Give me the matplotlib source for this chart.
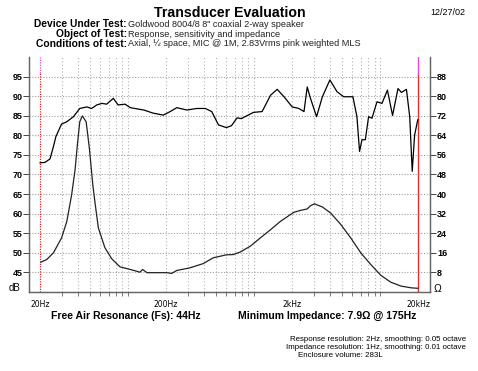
# Transducer evaluation sheet: response + impedance of Goldwood 8004/8
import matplotlib
matplotlib.use("Agg")
import matplotlib.pyplot as plt

# response (dB SPL, left axis)
resp_freq = [20, 21.9, 24.0, 25.5, 26.7, 29.6, 32.6, 36.8, 41.3, 47, 51.3, 56.3, 61.9, 67.5,
             76.2, 83.2, 94.4, 104, 133, 158, 190, 215, 243, 292, 350, 409, 460, 520, 600,
             660, 730, 789, 985, 1153, 1347, 1520, 1720, 2000, 2260, 2480, 2630, 2790, 3120,
             3470, 3980, 4530, 5120, 6060, 6520, 6840, 7150, 7600, 8070, 8580, 9400, 10300,
             11380, 12500, 13800, 14700, 16100, 17100, 17900, 18700, 19800]
resp_db = [73.0, 73.1, 74.0, 77.1, 79.7, 82.9, 83.5, 84.8, 86.9, 87.3, 86.9, 87.8, 88.2, 88.0,
           89.5, 87.8, 88.0, 87.1, 86.5, 85.7, 85.2, 86.1, 87.1, 86.5, 86.9, 86.9, 86.1, 82.7,
           82.0, 82.5, 84.5, 84.3, 85.9, 86.1, 90.3, 91.8, 89.9, 87.3, 86.9, 86.1, 92.4, 89.5,
           84.8, 89.9, 94.2, 91.2, 89.9, 89.9, 84.8, 75.9, 78.9, 78.9, 84.8, 84.4, 88.6, 88.2,
           91.6, 85.1, 92.0, 91.0, 91.8, 84.8, 70.8, 80.1, 84.0]

# impedance (ohms, right axis)
imp_freq = [20.3, 22.6, 25.5, 29.6, 32.6, 35.6, 37.9, 39.5, 41.3, 43.3, 46.4, 49.2, 52.4, 54.6,
            58, 65.4, 74, 86, 104, 124, 130, 141, 169, 202, 221, 243, 310, 393, 473, 600, 680,
            770, 928, 1115, 1346, 1612, 2055, 2325, 2630, 2790, 3000, 3470, 4040, 4860, 5830,
            7000, 8410, 10100, 12100, 14600, 17500, 19800]
imp_ohm = [12.1, 13.2, 15.9, 22, 28.8, 39.7, 49.9, 60, 69.6, 72, 69.6, 58.8, 43.8, 36.3,
           26.1, 18, 13.5, 10.2, 9.1, 8.0, 9.1, 7.8, 7.8, 7.8, 7.5, 8.7, 9.8, 11.5, 13.9, 15.1,
           15.2, 16.2, 18.6, 22, 25.4, 28.8, 32.5, 33.3, 33.9, 35.2, 36, 34.7, 32.2, 27.5, 22,
           15.9, 11.1, 6.7, 3.9, 2.3, 1.6, 1.4]

db_ticks = [45, 50, 55, 60, 65, 70, 75, 80, 85, 90, 95]
ohm_ticks = [8, 16, 24, 32, 40, 48, 56, 64, 72, 80, 88]
x_major = [20, 200, 2000, 20000]
x_labels = ["20Hz", "200Hz", "2kHz", "20kHz"]

head_keys = ["Device Under Test:", "Object of Test:", "Conditions of test:"]
head_vals = ["Goldwood 8004/8 8\" coaxial 2-way speaker",
             "Response, sensitivity and impedance",
             "Axial, \u00bd space, MIC @ 1M, 2.83Vrms pink weighted MLS"]

plt.rcParams['font.family'] = ['Liberation Sans', 'DejaVu Sans']

fig = plt.figure(figsize=(4.78, 3.71), dpi=100)
ax = fig.add_axes([0.0613, 0.2137, 0.8383, 0.6319])
ax.set_xscale('log')
ax.set_xlim(16.43, 24770)
ax.set_ylim(40, 100)

# dotted grid
grid_f = [m * 10 ** e for e in range(1, 5) for m in range(1, 10)]
grid_f = [f for f in grid_f if 20 < f < 20000]
for f in grid_f:
    ax.axvline(f, color='#b0b0b0', lw=0.8, ls=(0, (1, 2)), zorder=1)
for d in db_ticks:
    ax.axhline(d, color='#a0a0a0', lw=0.8, ls=(0, (1, 1.5)), zorder=1)

# 20Hz / 20kHz markers
ax.axvline(20, ymin=0, ymax=0.935, color='#e02020', lw=0.9, ls=(0, (1, 1)), zorder=2)
ax.axvline(20, ymin=0.935, ymax=1, color='#e040e0', lw=0.9, ls=(0, (1, 1)), zorder=2)
ax.axvline(20000, ymin=0, ymax=0.93, color='#e03030', lw=1.0, zorder=2)
ax.axvline(20000, ymin=0.93, ymax=1, color='#e050e0', lw=1.0, zorder=2)

ax.plot(resp_freq, resp_db, color='black', lw=0.9, zorder=3)

ax2 = ax.twinx()
ax2.set_ylim(0, 96)
ax2.plot(imp_freq, imp_ohm, color='#222222', lw=0.9, zorder=3)

for a in (ax, ax2):
    for s in a.spines.values():
        s.set_color('#666666')
        s.set_linewidth(0.9)
    a.spines['top'].set_visible(False)

ax.set_yticks(db_ticks)
ax.set_yticklabels([str(d) for d in db_ticks], fontsize=6.5, fontweight='bold')
ax.tick_params(axis='y', length=4, width=0.7, color='#444444', pad=1)
ax2.set_yticks(ohm_ticks)
ax2.set_yticklabels([str(o) for o in ohm_ticks], fontsize=6.5, fontweight='bold')
ax2.tick_params(axis='y', length=4, width=0.7, color='#444444', pad=1)

ax.set_xticks(x_major)
ax.set_xticklabels(x_labels, fontsize=5.5, family=['Liberation Sans Narrow', 'DejaVu Sans'])
ax.set_xticks(grid_f, minor=True)
ax.set_xticklabels([], minor=True)
ax.tick_params(axis='x', which='both', length=3, width=0.6, color='#666666', pad=6)
ax.tick_params(axis='x', which='major', length=0)

fig.text(0.031, 0.224, "dB", fontsize=7, ha='center', va='center')
fig.text(0.914, 0.221, "\u03a9", fontsize=7.5, ha='center', va='center')

# header
fig.text(0.481, 0.966, "Transducer Evaluation", fontsize=10.2, fontweight='bold',
         ha='center', va='center')
fig.text(0.936, 0.966, "12/27/02", fontsize=6.5, ha='center', va='center')
head_y = [0.934, 0.908, 0.882]
for k, v, y in zip(head_keys, head_vals, head_y):
    fig.text(0.265, y, k, fontsize=7.4, fontweight='bold', ha='right', va='center')
    fig.text(0.268, y, v, fontsize=6.6, ha='left', va='center', color='#222222')

# footer
fig.text(0.264, 0.148, "Free Air Resonance (Fs): 44Hz", fontsize=7.5, fontweight='bold',
         ha='center', va='center')
fig.text(0.685, 0.148, "Minimum Impedance: 7.9\u03a9 @ 175Hz", fontsize=7.5,
         fontweight='bold', ha='center', va='center')
fig.text(0.975, 0.084, "Response resolution: 2Hz, smoothing: 0.05 octave", fontsize=5.7,
         ha='right', va='center')
fig.text(0.975, 0.063, "Impedance resolution: 1Hz, smoothing: 0.01 octave", fontsize=5.7,
         ha='right', va='center')
fig.text(0.623, 0.043, "Enclosure volume: 283L", fontsize=5.7, ha='left', va='center')

fig.savefig("out.png", dpi=100)
